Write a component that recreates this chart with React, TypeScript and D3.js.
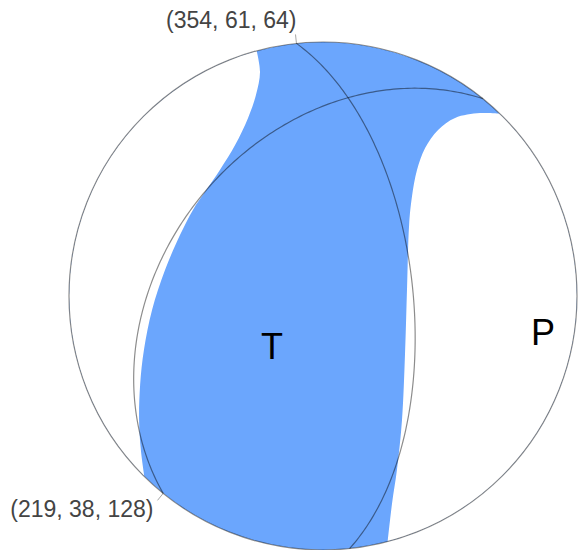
import React from "react";
import * as d3 from "d3";

// Nodal planes: strike, dip, rake
const planeLabels = ["(354, 61, 64)", "(219, 38, 128)"];
const strikes = [354, 219];
const dips = [61, 38];
const rakes = [64, 128];
const axisNames = ["T", "P"];

// Boundaries of the white (compressional) regions,
// in unit-disk coordinates [east, north]
const westEdge: [number, number][] = [
  [-0.260, 0.961], [-0.248, 0.882], [-0.264, 0.791], [-0.295, 0.701],
  [-0.346, 0.594], [-0.406, 0.496], [-0.465, 0.409], [-0.512, 0.339],
  [-0.563, 0.240], [-0.622, 0.102], [-0.673, -0.055], [-0.705, -0.213],
  [-0.720, -0.350], [-0.724, -0.488], [-0.717, -0.606], [-0.705, -0.713],
];
const eastEdge: [number, number][] = [
  [0.697, 0.720], [0.618, 0.720], [0.520, 0.701], [0.453, 0.654],
  [0.402, 0.583], [0.370, 0.496], [0.350, 0.390], [0.339, 0.280],
  [0.331, 0.035], [0.323, -0.224], [0.311, -0.488], [0.291, -0.685],
  [0.272, -0.815], [0.256, -0.972],
];

const W = 578;
const H = 550;
const CX = 323;
const CY = 296;
const R = 254;
const BLUE = "#6ba6fd";
const rad = Math.PI / 180;

type V3 = [number, number, number];

// equal-area lower hemisphere projection of a NED vector -> unit-disk [east, north]
function project(v: V3): [number, number] {
  let [n, e, z] = v;
  const len = Math.hypot(n, e, z);
  n /= len; e /= len; z /= len;
  if (z < 0) { n = -n; e = -e; z = -z; }
  const plunge = Math.asin(Math.min(1, z));
  const az = Math.atan2(e, n);
  const d = Math.SQRT2 * Math.sin((Math.PI / 2 - plunge) / 2);
  return [d * Math.sin(az), d * Math.cos(az)];
}

function greatCircle(strike: number, dip: number): [number, number][] {
  const s: V3 = [Math.cos(strike * rad), Math.sin(strike * rad), 0];
  const dd = (strike + 90) * rad;
  const d: V3 = [Math.cos(dip * rad) * Math.cos(dd), Math.cos(dip * rad) * Math.sin(dd), Math.sin(dip * rad)];
  return d3.range(0, 181, 1).map((t) => {
    const c = Math.cos(t * rad), si = Math.sin(t * rad);
    return project([c * s[0] + si * d[0], c * s[1] + si * d[1], c * s[2] + si * d[2]]);
  });
}

function tpAxes(strike: number, dip: number, rake: number) {
  const f = strike * rad, dl = dip * rad, l = rake * rad;
  const n: V3 = [-Math.sin(dl) * Math.sin(f), Math.sin(dl) * Math.cos(f), -Math.cos(dl)];
  const u: V3 = [
    Math.cos(l) * Math.cos(f) + Math.cos(dl) * Math.sin(l) * Math.sin(f),
    Math.cos(l) * Math.sin(f) - Math.cos(dl) * Math.sin(l) * Math.cos(f),
    -Math.sin(l) * Math.sin(dl),
  ];
  const T: V3 = [n[0] + u[0], n[1] + u[1], n[2] + u[2]];
  const P: V3 = [n[0] - u[0], n[1] - u[1], n[2] - u[2]];
  return [project(T), project(P)];
}

export default function App() {
  const xs = d3.scaleLinear().domain([-1, 1]).range([CX - R, CX + R]);
  const ys = d3.scaleLinear().domain([-1, 1]).range([CY + R, CY - R]);

  const curve = d3
    .line<[number, number]>()
    .x((d) => xs(d[0]))
    .y((d) => ys(d[1]))
    .curve(d3.curveCatmullRom.alpha(0.5));
  const straight = d3
    .line<[number, number]>()
    .x((d) => xs(d[0]))
    .y((d) => ys(d[1]));

  const norm = (p: [number, number]): [number, number] => {
    const l = Math.hypot(p[0], p[1]);
    return [p[0] / l, p[1] / l];
  };

  const regionPath = (pts: [number, number][], sweep: number) => {
    const p = pts.slice();
    p[0] = norm(p[0]);
    p[p.length - 1] = norm(p[p.length - 1]);
    const first = p[0];
    return `${curve(p)} A ${R} ${R} 0 0 ${sweep} ${xs(first[0])} ${ys(first[1])} Z`;
  };

  const axes = tpAxes(strikes[0], dips[0], rakes[0]);
  const stroke = "rgba(0,0,0,0.45)";

  return (
    <svg width={W} height={H} style={{ position: "absolute", left: 0, top: 0 }}>
      <defs>
        <clipPath id="ball">
          <circle cx={CX} cy={CY} r={R} />
        </clipPath>
      </defs>
      <rect x={0} y={0} width={W} height={H} fill="#fff" />
      <g clipPath="url(#ball)">
        <circle cx={CX} cy={CY} r={R} fill={BLUE} />
        <path d={regionPath(westEdge, 1)} fill="#fff" />
        <path d={regionPath(eastEdge, 0)} fill="#fff" />
      </g>
      {strikes.map((s, i) => (
        <path key={"gc" + i} d={straight(greatCircle(s, dips[i])) || ""} fill="none" stroke={stroke} strokeWidth={1.2} />
      ))}
      <circle cx={CX} cy={CY} r={R} fill="none" stroke={stroke} strokeWidth={1.2} />
      {strikes.map((s, i) => {
        const a = s * rad;
        const p0: [number, number] = [Math.sin(a), Math.cos(a)];
        const x0 = xs(p0[0]), y0 = ys(p0[1]);
        const x1 = x0 + 9 * Math.sin(a), y1 = y0 - 9 * Math.cos(a);
        const below = y1 > CY;
        return (
          <g key={"lab" + i}>
            <line x1={x0} y1={y0} x2={x1} y2={y1} stroke="rgba(0,0,0,0.35)" strokeWidth={1} />
            <text
              x={below ? x1 - 4 : x1 + 1}
              y={below ? y1 + 17 : y1 - 6}
              textAnchor="end"
              fontFamily="'Liberation Sans', Arial, sans-serif"
              fontSize={23}
              fill="#444"
            >
              {planeLabels[i]}
            </text>
          </g>
        );
      })}
      {axes.map((p, i) => (
        <text
          key={"ax" + i}
          x={xs(p[0])}
          y={ys(p[1])}
          textAnchor="middle"
          fontFamily="'Liberation Sans', Arial, sans-serif"
          fontSize={36}
          fill="#000"
        >
          {axisNames[i]}
        </text>
      ))}
    </svg>
  );
}
